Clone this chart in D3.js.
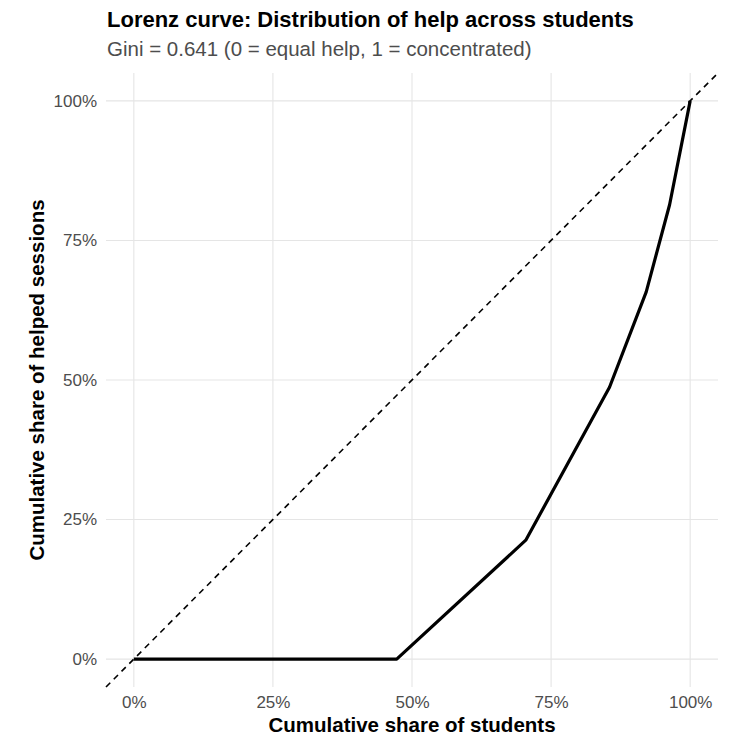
<!DOCTYPE html>
<html>
<head>
<meta charset="utf-8">
<script src="https://cdn.jsdelivr.net/npm/d3@7"></script>
<style>
  body { margin: 0; background: #fff; }
  text { font-family: "Liberation Sans", Arial, sans-serif; }
</style>
</head>
<body>
<div id="wrapper"></div>
<script>
// Lorenz curve points (cumulative share of students, cumulative share of help)
const studentShare = [0, 0.4725, 0.7045, 0.855, 0.921, 0.963, 1.0];
const helpShare = [0, 0, 0.213, 0.487, 0.658, 0.814, 1.0];
const tickValues = [0, 0.25, 0.5, 0.75, 1];
const giniValue = 0.641;

const dataset = studentShare.map((x, i) => ({ x, y: helpShare[i] }));

const dimensions = {
  width: 747,
  height: 747,
  margin: { top: 73, right: 29, bottom: 60, left: 106 },
};
dimensions.boundedWidth =
  dimensions.width - dimensions.margin.left - dimensions.margin.right;
dimensions.boundedHeight =
  dimensions.height - dimensions.margin.top - dimensions.margin.bottom;

const svg = d3
  .select("#wrapper")
  .append("svg")
  .attr("width", dimensions.width)
  .attr("height", dimensions.height);

const bounds = svg
  .append("g")
  .attr("transform", `translate(${dimensions.margin.left},${dimensions.margin.top})`);

// ggplot-style 5% expansion on both ends
const xScale = d3.scaleLinear().domain([-0.05, 1.05]).range([0, dimensions.boundedWidth]);
const yScale = d3.scaleLinear().domain([-0.05, 1.05]).range([dimensions.boundedHeight, 0]);

const fmt = d3.format(".0%");

// grid
bounds
  .append("g")
  .selectAll("line")
  .data(tickValues)
  .join("line")
  .attr("x1", (d) => xScale(d))
  .attr("x2", (d) => xScale(d))
  .attr("y1", 0)
  .attr("y2", dimensions.boundedHeight)
  .attr("stroke", "#e5e5e5")
  .attr("stroke-width", 1.1);

bounds
  .append("g")
  .selectAll("line")
  .data(tickValues)
  .join("line")
  .attr("x1", 0)
  .attr("x2", dimensions.boundedWidth)
  .attr("y1", (d) => yScale(d))
  .attr("y2", (d) => yScale(d))
  .attr("stroke", "#e5e5e5")
  .attr("stroke-width", 1.1);

// equality line
bounds
  .append("line")
  .attr("x1", xScale(-0.05))
  .attr("y1", yScale(-0.05))
  .attr("x2", xScale(1.05))
  .attr("y2", yScale(1.05))
  .attr("stroke", "#000")
  .attr("stroke-width", 1.6)
  .style("stroke-dasharray", "6 5");

// Lorenz curve
const lineGenerator = d3
  .line()
  .x((d) => xScale(d.x))
  .y((d) => yScale(d.y));

bounds
  .append("path")
  .datum(dataset)
  .attr("d", lineGenerator)
  .attr("fill", "none")
  .attr("stroke", "#000")
  .attr("stroke-width", 3.2)
  .attr("stroke-linejoin", "round");

// axes (labels only)
const xAxis = bounds
  .append("g")
  .attr("transform", `translate(0,${dimensions.boundedHeight})`)
  .call(d3.axisBottom(xScale).tickValues(tickValues).tickFormat(fmt).tickSize(0).tickPadding(9));
xAxis.select(".domain").remove();
xAxis.selectAll("text")
  .style("font-family", "Liberation Sans, Arial, sans-serif")
  .style("font-size", "17px")
  .attr("fill", "#4d4d4d");

const yAxis = bounds
  .append("g")
  .call(d3.axisLeft(yScale).tickValues(tickValues).tickFormat(fmt).tickSize(0).tickPadding(9));
yAxis.select(".domain").remove();
yAxis.selectAll("text")
  .style("font-family", "Liberation Sans, Arial, sans-serif")
  .style("font-size", "17px")
  .attr("fill", "#4d4d4d");

// axis titles
svg
  .append("text")
  .attr("x", dimensions.margin.left + dimensions.boundedWidth / 2)
  .attr("y", 732)
  .attr("text-anchor", "middle")
  .style("font-size", "20.5px")
  .style("font-weight", "bold")
  .text("Cumulative share of students");

svg
  .append("text")
  .attr("transform", `translate(44,${dimensions.margin.top + dimensions.boundedHeight / 2}) rotate(-90)`)
  .attr("text-anchor", "middle")
  .style("font-size", "20.5px")
  .style("font-weight", "bold")
  .text("Cumulative share of helped sessions");

// title + subtitle
svg
  .append("text")
  .attr("x", 107)
  .attr("y", 27)
  .style("font-size", "22px")
  .style("font-weight", "bold")
  .text("Lorenz curve: Distribution of help across students");

svg
  .append("text")
  .attr("x", 107)
  .attr("y", 56)
  .style("font-size", "20.5px")
  .attr("fill", "#4d4d4d")
  .text(`Gini = ${giniValue.toFixed(3)} (0 = equal help, 1 = concentrated)`);
</script>
</body>
</html>
